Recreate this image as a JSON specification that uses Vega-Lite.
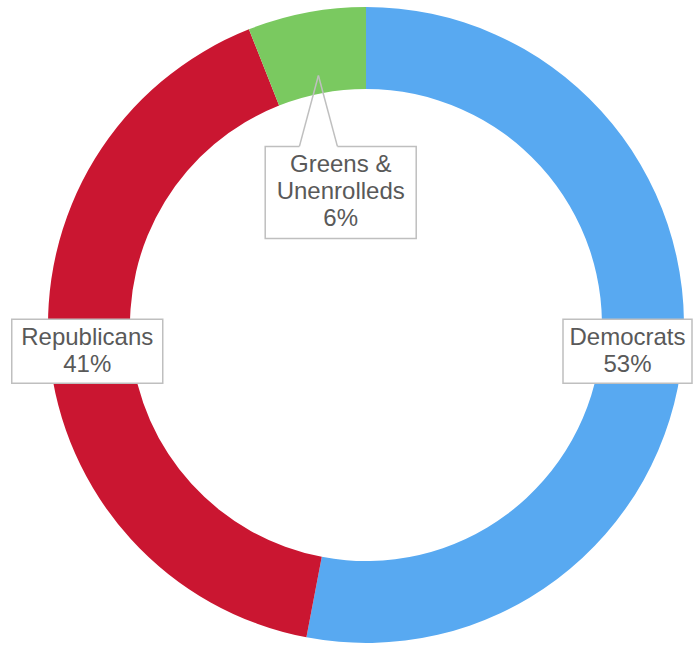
{
  "$schema": "https://vega.github.io/schema/vega-lite/v6.json",
  "width": 656,
  "height": 646,
  "autosize": {"type": "none"},
  "padding": {"left": 38, "top": 2, "right": 0, "bottom": 0},
  "background": "white",
  "config": {"view": {"stroke": null}},
  "data": {
    "values": [
      {"party": "Democrats", "pct": 53},
      {"party": "Republicans", "pct": 41},
      {"party": "Greens & Unenrolleds", "pct": 6}
    ]
  },
  "transform": [
    {"joinaggregate": [{"op": "sum", "field": "pct", "as": "total"}]},
    {"window": [{"op": "sum", "field": "pct", "as": "cum"}], "sort": [{"field": "pct", "order": "descending"}], "frame": [null, 0]},
    {"calculate": "(datum.cum - datum.pct / 2) / datum.total * 2 * PI", "as": "mid"},
    {"calculate": "datum.pct < 10 ? 135 : 280", "as": "lr"},
    {"calculate": "indexof(datum.party, '&') >= 0 ? 3 : 2", "as": "nl"},
    {"calculate": "indexof(datum.party, '&') >= 0 ? length(datum.party) - indexof(datum.party, '&') - 2 : length(datum.party)", "as": "maxlen"},
    {"calculate": "datum.maxlen * 11 + 30", "as": "bw"},
    {"calculate": "datum.nl * 28 + 8", "as": "bh"},
    {"calculate": "clamp(datum.lr * sin(datum.mid), -366 + datum.bw / 2 + 2, 328 - datum.bw / 2 - 2)", "as": "lx"},
    {"calculate": "datum.lr * cos(datum.mid)", "as": "ly"},
    {"calculate": "datum.ly + (datum.nl - 1) * 13.5", "as": "ty"},
    {"calculate": "datum.lx - datum.bw / 2", "as": "bx1"},
    {"calculate": "datum.lx + datum.bw / 2", "as": "bx2"},
    {"calculate": "datum.ly - datum.bh / 2", "as": "by1"},
    {"calculate": "datum.ly + datum.bh / 2", "as": "by2"},
    {"calculate": "254 * sin(datum.mid)", "as": "tipx"},
    {"calculate": "254 * cos(datum.mid)", "as": "tipy"},
    {"calculate": "datum.tipx - 19", "as": "baseL"},
    {"calculate": "datum.tipx + 19", "as": "baseR"},
    {"calculate": "replace(datum.party, '& ', '&\\n') + '\\n' + datum.pct + '%'", "as": "label"}
  ],
  "layer": [
    {
      "mark": {"type": "arc", "outerRadius": 318, "innerRadius": 236},
      "encoding": {
        "theta": {"field": "pct", "type": "quantitative", "stack": true},
        "order": {"field": "pct", "sort": "descending"},
        "color": {
          "field": "party",
          "type": "nominal",
          "scale": {
            "domain": ["Democrats", "Republicans", "Greens & Unenrolleds"],
            "range": ["#58A9F1", "#CA1631", "#7AC960"]
          },
          "legend": null
        }
      }
    },
    {
      "mark": {"type": "rect", "fill": "white", "stroke": "#BFBFBF", "strokeWidth": 1.5},
      "encoding": {
        "x": {"field": "bx1", "type": "quantitative", "scale": {"domain": [-328, 328], "nice": false, "zero": false}, "axis": null},
        "x2": {"field": "bx2"},
        "y": {"field": "by1", "type": "quantitative", "scale": {"domain": [-323, 323], "nice": false, "zero": false}, "axis": null},
        "y2": {"field": "by2"}
      }
    },
    {
      "transform": [{"filter": "datum.pct < 10"}],
      "mark": {"type": "rule", "stroke": "white", "strokeWidth": 3},
      "encoding": {
        "x": {"field": "baseL", "type": "quantitative"},
        "x2": {"field": "baseR"},
        "y": {"field": "by2", "type": "quantitative"},
        "y2": {"field": "by2"}
      }
    },
    {
      "transform": [{"filter": "datum.pct < 10"}],
      "mark": {"type": "rule", "stroke": "#BFBFBF", "strokeWidth": 1.5},
      "encoding": {
        "x": {"field": "tipx", "type": "quantitative"},
        "x2": {"field": "baseL"},
        "y": {"field": "tipy", "type": "quantitative"},
        "y2": {"field": "by2"}
      }
    },
    {
      "transform": [{"filter": "datum.pct < 10"}],
      "mark": {"type": "rule", "stroke": "#BFBFBF", "strokeWidth": 1.5},
      "encoding": {
        "x": {"field": "tipx", "type": "quantitative"},
        "x2": {"field": "baseR"},
        "y": {"field": "tipy", "type": "quantitative"},
        "y2": {"field": "by2"}
      }
    },
    {
      "mark": {
        "type": "text",
        "font": "Liberation Sans",
        "fontSize": 24,
        "lineHeight": 27,
        "lineBreak": "\n",
        "align": "center",
        "baseline": "middle",
        "color": "#595959"
      },
      "encoding": {
        "x": {"field": "lx", "type": "quantitative"},
        "y": {"field": "ty", "type": "quantitative"},
        "text": {"field": "label"}
      }
    }
  ]
}
